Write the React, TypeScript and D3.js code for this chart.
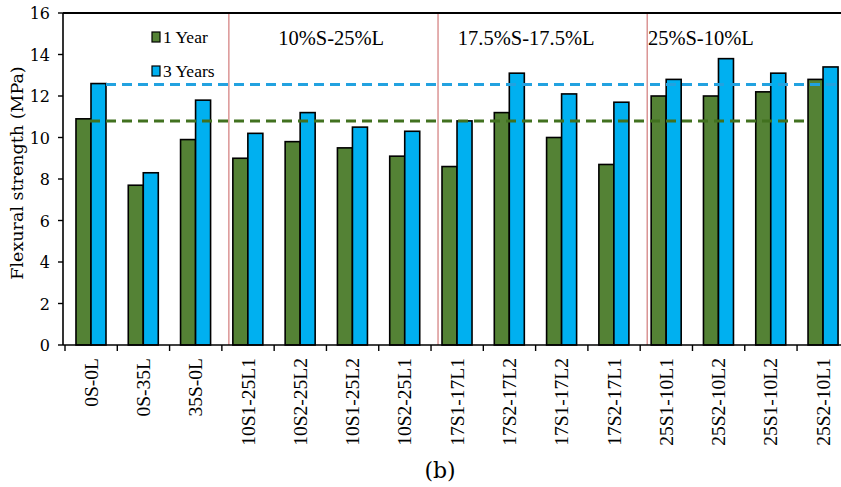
import React from "react";
import * as d3 from "d3";

const categories = [
  "0S-0L", "0S-35L", "35S-0L",
  "10S1-25L1", "10S2-25L2", "10S1-25L2", "10S2-25L1",
  "17S1-17L1", "17S2-17L2", "17S1-17L2", "17S2-17L1",
  "25S1-10L1", "25S2-10L2", "25S1-10L2", "25S2-10L1",
];
const oneYear = [10.9, 7.7, 9.9, 9.0, 9.8, 9.5, 9.1, 8.6, 11.2, 10.0, 8.7, 12.0, 12.0, 12.2, 12.8];
const threeYears = [12.6, 8.3, 11.8, 10.2, 11.2, 10.5, 10.3, 10.8, 13.1, 12.1, 11.7, 12.8, 13.8, 13.1, 13.4];
const yTicks = [0, 2, 4, 6, 8, 10, 12, 14, 16];
const seriesNames = ["1 Year", "3 Years"];
const refOneYear = 10.8;
const refThreeYears = 12.55;
const groupLabels = ["10%S-25%L", "17.5%S-17.5%L", "25%S-10%L"];
const groupLabelPos = [5.09, 8.82, 12.16]; // in category units
const dividerAfter = [3, 7, 11];

const W = 841;
const H = 487;
const GREEN = "#548235";
const BLUE = "#00b0f0";
const GREEN_DASH = "#41711f";
const BLUE_DASH = "#22a2e0";
const RED = "#d27a7a";
const SERIF = "Liberation Serif, Times New Roman, Times, serif";
const CAMBRIA = "DejaVu Serif, serif";

export default function App() {
  const left = 63;
  const top = 13;
  const bottom = 345;
  const bw = 52.29;
  const xStart = 65;
  const x = d3
    .scaleBand<string>()
    .domain(categories)
    .range([xStart, xStart + bw * categories.length])
    .paddingInner(0)
    .paddingOuter(0);
  const xu = d3.scaleLinear().domain([0, categories.length]).range([xStart, xStart + bw * categories.length]);
  const y = d3.scaleLinear().domain([0, 16]).range([bottom, top]);
  const barW = bw * 0.287;
  const off = bw * 0.21;

  return (
    <svg width={W} height={H} style={{ display: "block", position: "absolute", left: 0, top: 0, background: "#fff" }}>
      <rect x={0} y={0} width={W} height={H} fill="#fff" />
      {dividerAfter.map((i) => (
        <line key={"d" + i} x1={xu(i) + 7} x2={xu(i) + 7} y1={top} y2={bottom} stroke={RED} strokeWidth={1.2} />
      ))}
      {categories.map((c, i) => (
        <g key={c}>
          <rect x={(x(c) as number) + off} y={y(oneYear[i])} width={barW} height={bottom - y(oneYear[i])}
            fill={GREEN} stroke="#000" strokeWidth={1.6} />
          <rect x={(x(c) as number) + off + barW} y={y(threeYears[i])} width={barW} height={bottom - y(threeYears[i])}
            fill={BLUE} stroke="#000" strokeWidth={1.6} />
        </g>
      ))}
      <line x1={90} x2={xu(14) + off} y1={y(refOneYear)} y2={y(refOneYear)} stroke={GREEN_DASH}
        strokeWidth={3} strokeDasharray="10,6" />
      <line x1={106} x2={W} y1={y(refThreeYears)} y2={y(refThreeYears)} stroke={BLUE_DASH}
        strokeWidth={3} strokeDasharray="10,6" />
      <line x1={left} x2={W} y1={top} y2={top} stroke="#000" strokeWidth={2} />
      <line x1={left} x2={left} y1={top} y2={bottom} stroke="#000" strokeWidth={1.6} />
      {yTicks.map((t) => (
        <g key={"y" + t}>
          <line x1={left - 5} x2={left} y1={y(t)} y2={y(t)} stroke="#000" strokeWidth={1.4} />
          <text x={left - 13} y={y(t) + 6} textAnchor="end" fontFamily={CAMBRIA} fontSize={16} fill="#000">
            {t}
          </text>
        </g>
      ))}
      <line x1={left} x2={W} y1={bottom} y2={bottom} stroke="#000" strokeWidth={1.6} />
      {d3.range(categories.length).map((i) => (
        <line key={"xt" + i} x1={xu(i)} x2={xu(i)} y1={bottom} y2={bottom + 6} stroke="#000" strokeWidth={1.4} />
      ))}
      {categories.map((c) => {
        const cx = (x(c) as number) + bw / 2;
        return (
          <text key={"xl" + c} transform={`translate(${cx + 6.5},${358}) rotate(-90)`} textAnchor="end"
            fontFamily={SERIF} fontSize={19.5} fill="#000">
            {c}
          </text>
        );
      })}
      {groupLabels.map((g, i) => (
        <text key={g} x={xu(groupLabelPos[i])} y={45} textAnchor="middle" fontFamily={SERIF}
          fontSize={20.5} fill="#000">
          {g}
        </text>
      ))}
      <rect x={152} y={32} width={8} height={10} fill={GREEN} stroke="#000" strokeWidth={1.2} />
      <text x={163} y={42.5} fontFamily={SERIF} fontSize={17.5} fill="#000">{seriesNames[0]}</text>
      <rect x={152} y={66} width={8} height={10} fill={BLUE} stroke="#000" strokeWidth={1.2} />
      <text x={163} y={76.5} fontFamily={SERIF} fontSize={17.5} fill="#000">{seriesNames[1]}</text>
      <text transform={`translate(${23},${173}) rotate(-90)`} textAnchor="middle" fontFamily={CAMBRIA}
        fontSize={17.5} fill="#000">
        Flexural strength (MPa)
      </text>
      <text x={440} y={478} textAnchor="middle" fontFamily={CAMBRIA} fontSize={22} fill="#000">(b)</text>
    </svg>
  );
}
